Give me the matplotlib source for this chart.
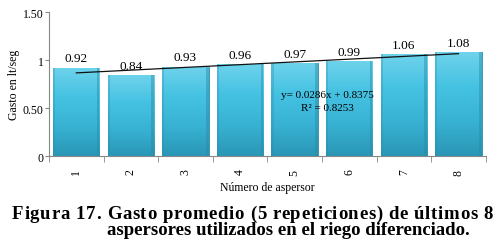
import numpy as np
import matplotlib
matplotlib.use("Agg")
import matplotlib.pyplot as plt
from matplotlib.colors import LinearSegmentedColormap

aspersores = ["1", "2", "3", "4", "5", "6", "7", "8"]
gasto = [0.92, 0.84, 0.93, 0.96, 0.97, 0.99, 1.06, 1.08]
pendiente = 0.0286
intercepto = 0.8375
r2 = 0.8253
yticks = [0, 0.5, 1.0, 1.5]
ytick_labels = ["0", "0.50", "1", "1.50"]
caption_1 = "Figura 17. Gasto promedio (5 repeticiones) de últimos 8"
caption_2 = "aspersores utilizados en el riego diferenciado."

plt.rcParams["font.family"] = ["Liberation Serif", "DejaVu Serif"]

fig = plt.figure(figsize=(5.02, 2.51), dpi=100)
ax = fig.add_axes([0.0976, 0.3745, 0.870, 0.5735])

x = np.arange(len(aspersores))
bars = ax.bar(x, gasto, width=0.85, color="#3bb5d5", edgecolor="#2a8fa8", linewidth=0.6, zorder=2)

# vertical gradient inside every bar (lighter top, darker bottom)
cmap = LinearSegmentedColormap.from_list("bevel", ["#2a96b5", "#38b2d3", "#45c2e2", "#6fd3ec"])
grad = np.linspace(0, 1, 256).reshape(-1, 1)
for b in bars:
    x0, w, h = b.get_x(), b.get_width(), b.get_height()
    im = ax.imshow(grad, cmap=cmap, origin="lower", aspect="auto",
                   extent=(x0, x0 + w, 0, h), zorder=2.5)
    im.set_clip_path(b)
    # darker side strips for the bevel look
    ax.fill_between([x0 + w - 0.05, x0 + w], 0, h, color="#2a8aa6", alpha=0.45, lw=0, zorder=2.6)
    ax.fill_between([x0, x0 + 0.04], 0, h, color="#2a8aa6", alpha=0.3, lw=0, zorder=2.6)

for xi, v in zip(x, gasto):
    ax.text(xi, v + 0.035, f"{v:.2f}", ha="center", va="bottom", fontsize=9.5)

# linear trendline
xs = np.array([x[0], x[-1]])
ax.plot(xs, pendiente * (xs + 1) + intercepto, color="#111111", lw=0.9, zorder=4)
ax.text(4.6, 0.646, f"y= {pendiente}x + {intercepto}", ha="center", va="center", fontsize=8, zorder=5)
ax.text(4.6, 0.51, f"R² = {r2}", ha="center", va="center", fontsize=8, zorder=5)

ax.set_xlim(-0.5, len(aspersores) - 0.5)
ax.set_ylim(0, 1.5)
ax.set_yticks(yticks)
ax.set_yticklabels(ytick_labels, fontsize=8.5)
ax.set_xticks(x)
ax.set_xticklabels(aspersores, rotation=90, fontsize=8.5)
ax.set_xticks(np.arange(-0.5, len(aspersores)), minor=True)
ax.tick_params(axis="x", which="major", length=0, pad=9)
ax.tick_params(axis="x", which="minor", length=4, color="#888888")
ax.tick_params(axis="y", length=3, color="#888888", pad=1)
for s in ["top", "right"]:
    ax.spines[s].set_visible(False)
for s in ["left", "bottom"]:
    ax.spines[s].set_color("#888888")

ax.set_ylabel("Gasto en lt/seg", fontsize=8.5, labelpad=2)
fig.text(0.532, 0.252, "Número de aspersor", ha="center", va="center", fontsize=8.5)

# caption: first line is justified (letter-spaced) like the original document
cap_fs = 13.5
renderer = fig.canvas.get_renderer()
fig_w = fig.get_figwidth() * fig.dpi


def text_width(s):
    t = fig.text(0, 0, s, fontsize=cap_fs, fontweight="bold")
    w = t.get_window_extent(renderer).width
    t.remove()
    return w


ref_w = text_width("l")
advances = [0.0] + [text_width(caption_1[:i] + "l") - ref_w for i in range(1, len(caption_1))]
left_px, right_px = 12, 493
extra = (right_px - left_px - text_width(caption_1)) / (len(caption_1) - 1)
for i, c in enumerate(caption_1):
    if c != " ":
        fig.text((left_px + advances[i] + i * extra) / fig_w, 0.129, c,
                 ha="left", va="baseline", fontsize=cap_fs, fontweight="bold")

fig.text(107 / fig_w, 0.064, caption_2, ha="left", va="baseline", fontsize=cap_fs, fontweight="bold")

fig.savefig("out.png", dpi=100)
